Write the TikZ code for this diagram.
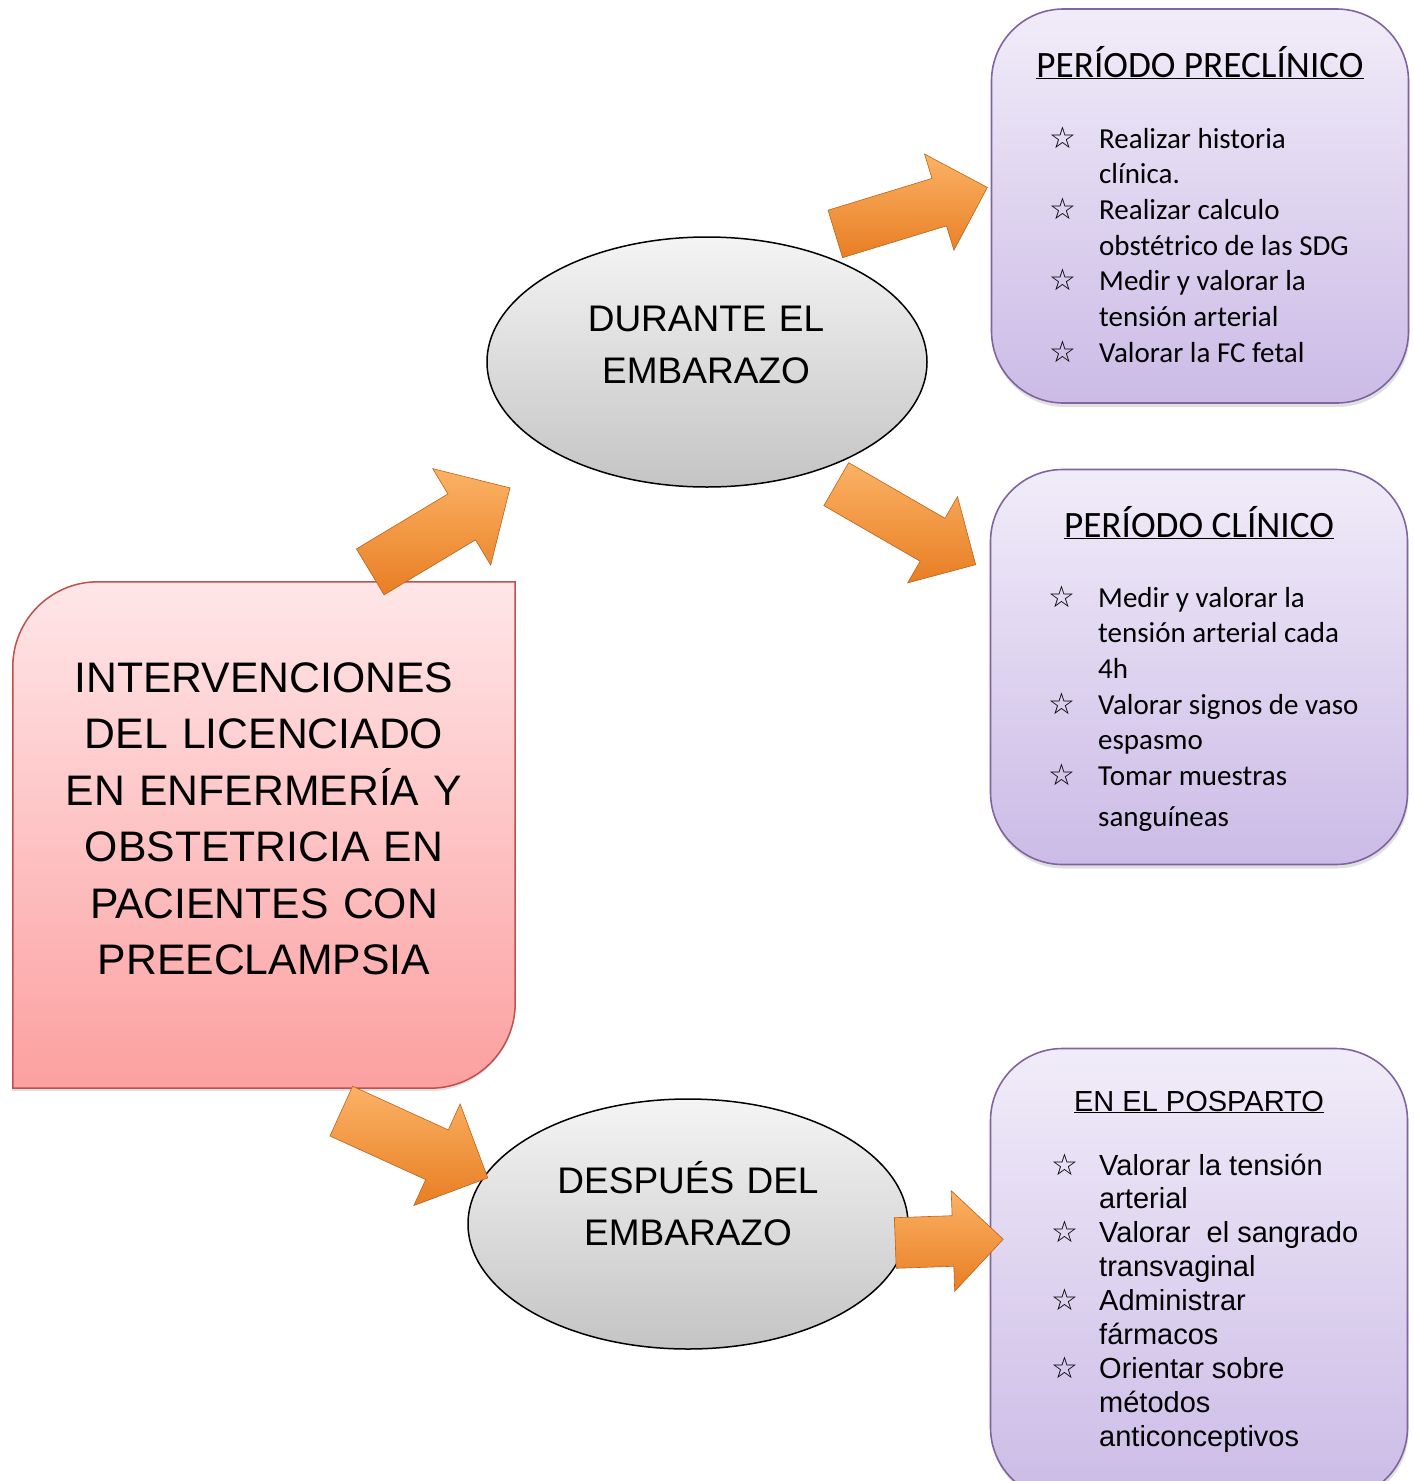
\documentclass[tikz,border=0pt]{standalone}
\usepackage{fontspec}
\setmainfont{Liberation Sans}
\newfontfamily\calibri{Carlito}
\newfontfamily\starfont{DejaVu Sans}
\usetikzlibrary{shapes.geometric, shapes.arrows, shadows, backgrounds}

\definecolor{redline}{RGB}{192,80,77}
\definecolor{redtop}{RGB}{255,230,232}
\definecolor{redbottom}{RGB}{252,160,160}
\definecolor{lilaline}{RGB}{128,100,162}
\definecolor{lilatop}{RGB}{241,236,249}
\definecolor{lilabottom}{RGB}{203,187,230}
\definecolor{graytop}{RGB}{244,244,244}
\definecolor{graybottom}{RGB}{196,196,196}
\definecolor{orangelight}{RGB}{251,178,100}
\definecolor{orangemid}{RGB}{247,148,52}
\definecolor{orangedark}{RGB}{232,126,36}
\definecolor{orangeline}{RGB}{190,98,26}

\newcommand{\bul}{\makebox[22pt]{\starfont\fontsize{30}{30}\selectfont ☆}}

\tikzset{%
	mainbox/.style={draw=redline, line width=1.5pt, top color=redtop, bottom color=redbottom,
		drop shadow={shadow xshift=-1pt, shadow yshift=-3pt, opacity=.2, fill=black!60}},
	stage/.style={draw, ellipse, line width=1.5pt, minimum width=440pt, minimum height=250pt,
		top color=graytop, bottom color=graybottom},
	period/.style={draw=lilaline, line width=1.6pt, rectangle, rounded corners=72pt,
		minimum width=417pt, top color=lilatop, bottom color=lilabottom,
		drop shadow={shadow xshift=1pt, shadow yshift=-4pt, opacity=.2, fill=black!60}},
	flow/.style={single arrow, draw=orangeline, line width=.6pt, inner xsep=0pt,
		single arrow tip angle=90, anchor=tail,
		top color=orangelight, middle color=orangemid, bottom color=orangedark},
	bigtext/.style={text width=490pt, align=center, inner sep=0pt, anchor=base,
		font=\fontsize{42.7}{56.5}\selectfont},
	stagetext/.style={text width=400pt, align=center, inner sep=0pt, anchor=base,
		font=\fontsize{37}{52}\selectfont},
	ctitle/.style={inner sep=0pt, anchor=base, font=\calibri\fontsize{37.2}{44}\selectfont},
	citems/.style={inner sep=0pt, anchor=base west, font=\calibri\fontsize{29}{35.7}\selectfont},
	atitle/.style={inner sep=0pt, anchor=base, font=\fontsize{29}{35}\selectfont},
	aitems/.style={inner sep=0pt, anchor=base west, font=\fontsize{29}{33.9}\selectfont}
}

\begin{document}
\begin{tikzpicture}[x=1pt, y=-1pt]
	\useasboundingbox (0,0) rectangle (1414,1481);

	% main box
	\node[minimum width=502pt, minimum height=506pt, inner sep=0pt] (main) at (264,835) {};
	\path[mainbox] (main.south west) -- ([yshift=-85pt]main.north west)
		arc[start angle=180, end angle=90, radius=85pt] -- (main.north east)
		-- ([yshift=85pt]main.south east) arc[start angle=0, end angle=-90, radius=85pt] -- cycle;
	\node[bigtext] (main-text) at (264,692)
		{INTERVENCIONES\\DEL LICENCIADO\\EN ENFERMERÍA Y\\OBSTETRICIA EN\\PACIENTES CON\\PREECLAMPSIA};

	% stages
	\node[stage] (during) at (707,362) {};
	\node[stagetext] (during-text) at (706,331) {DURANTE EL\\EMBARAZO};
	\node[stage] (after) at (688,1224) {};
	\node[stagetext] (after-text) at (688,1193) {DESPUÉS DEL\\EMBARAZO};

	% periods
	\node[period, minimum height=394pt] (pre) at (1200,206) {};
	\node[ctitle] (pre-title) at (1200,77) {\underline{PERÍODO PRECLÍNICO}};
	\node[citems] (pre-list) at (1052,148) {%
		\begin{tabular}[t]{@{}l@{\hspace{25pt}}l@{}}
			\bul & Realizar historia\\
			     & clínica.\\
			\bul & Realizar calculo\\
			     & obstétrico de las SDG\\
			\bul & Medir y valorar la\\
			     & tensión arterial\\
			\bul & Valorar la FC fetal
		\end{tabular}};

	\node[period, minimum height=395pt] (cli) at (1199,667) {};
	\node[ctitle] (cli-title) at (1199,537) {\underline{PERÍODO CLÍNICO}};
	\node[citems] (cli-list) at (1051,607) {%
		\begin{tabular}[t]{@{}l@{\hspace{25pt}}l@{}}
			\bul & Medir y valorar la\\
			     & tensión arterial cada\\
			     & 4h\\
			\bul & Valorar signos de vaso\\
			     & espasmo\\
			\bul & Tomar muestras\\[5pt]
			     & sanguíneas
		\end{tabular}};

	\node[period, minimum height=451pt] (pos) at (1199,1274) {};
	\node[atitle] (pos-title) at (1199,1111) {\underline{EN EL POSPARTO}};
	\node[aitems] (pos-list) at (1054,1175) {%
		\begin{tabular}[t]{@{}l@{\hspace{23pt}}l@{}}
			\bul & Valorar la tensión\\
			     & arterial\\
			\bul & Valorar~ el sangrado\\
			     & transvaginal\\
			\bul & Administrar\\
			     & fármacos\\
			\bul & Orientar sobre\\
			     & métodos\\
			     & anticonceptivos
		\end{tabular}};

	% arrows
	\node[flow, rotate=31, minimum height=163pt, inner ysep=26.5pt, single arrow head extend=29.5pt] (main-during) at (370,572) {};
	\node[flow, rotate=17, minimum height=159pt, inner ysep=24.5pt, single arrow head extend=25.5pt] (during-pre) at (835,234) {};
	\node[flow, rotate=-30, minimum height=161pt, inner ysep=24.5pt, single arrow head extend=25pt] (during-cli) at (836,484) {};
	\node[flow, rotate=-24.5, minimum height=161pt, inner ysep=27pt, single arrow head extend=28.5pt] (main-after) at (341,1111) {};
	\node[flow, rotate=2, minimum height=108pt, inner ysep=25pt, single arrow head extend=25pt] (after-pos) at (895,1243) {};
\end{tikzpicture}
\end{document}
